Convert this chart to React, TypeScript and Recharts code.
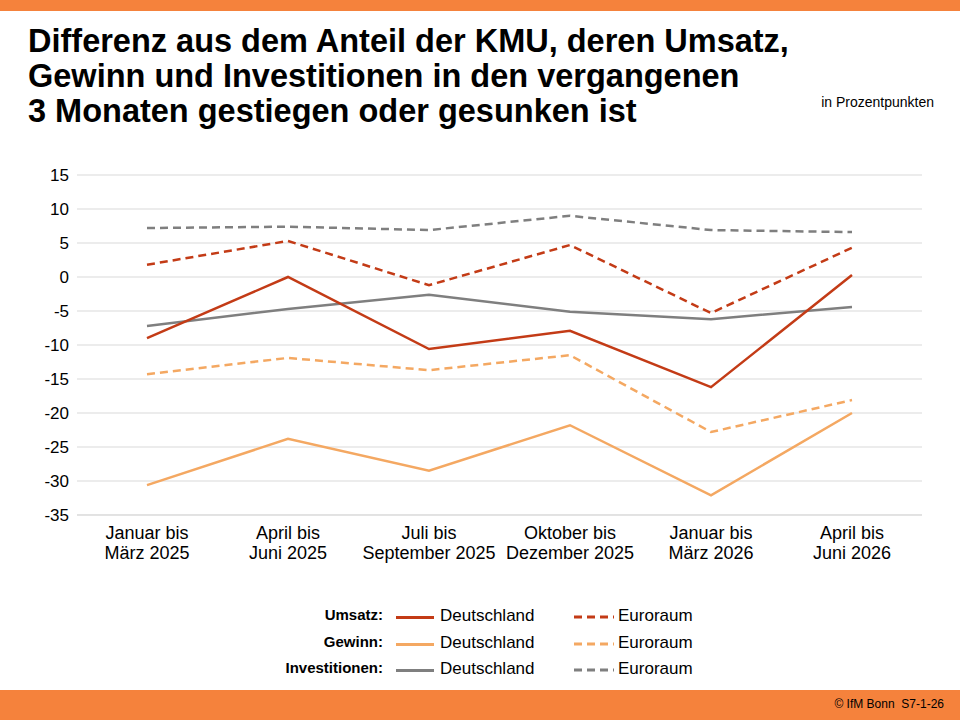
import { LineChart, Line, XAxis, YAxis, CartesianGrid } from "recharts";

const categories = [
  "Januar bis|März 2025",
  "April bis|Juni 2025",
  "Juli bis|September 2025",
  "Oktober bis|Dezember 2025",
  "Januar bis|März 2026",
  "April bis|Juni 2026",
];
const umsatzDE = [-9.0, 0.0, -10.6, -7.9, -16.2, 0.3];
const umsatzEU = [1.8, 5.3, -1.2, 4.7, -5.3, 4.3];
const gewinnDE = [-30.6, -23.8, -28.5, -21.8, -32.1, -20.0];
const gewinnEU = [-14.3, -11.9, -13.7, -11.5, -22.8, -18.1];
const investDE = [-7.2, -4.7, -2.6, -5.1, -6.2, -4.4];
const investEU = [7.2, 7.4, 6.9, 9.0, 6.9, 6.6];
const yTicks = [15, 10, 5, 0, -5, -10, -15, -20, -25, -30, -35];

const data = categories.map((c, i) => ({
  name: c,
  umsatzDE: umsatzDE[i],
  umsatzEU: umsatzEU[i],
  gewinnDE: gewinnDE[i],
  gewinnEU: gewinnEU[i],
  investDE: investDE[i],
  investEU: investEU[i],
}));

const RED = "#C33B16";
const ORANGE = "#F4A862";
const GREY = "#7F7F7F";
const FONT = "Liberation Sans, Arial, sans-serif";

function XTick({ x, y, payload }: any) {
  const [a, b] = String(payload.value).split("|");
  return (
    <text x={x} y={y + 16} textAnchor="middle" fontSize={18} fill="#000" fontFamily={FONT}>
      <tspan x={x} dy={0}>{a}</tspan>
      <tspan x={x} dy={20}>{b}</tspan>
    </text>
  );
}

const legendRows = [
  { label: "Umsatz:", color: RED, top: 616 },
  { label: "Gewinn:", color: ORANGE, top: 643 },
  { label: "Investitionen:", color: GREY, top: 669 },
];

export default function App() {
  return (
    <div style={{ position: "fixed", left: 0, top: 0, width: 960, height: 720, background: "#fff", fontFamily: FONT, overflow: "hidden" }}>
      <div style={{ position: "absolute", left: 0, top: 0, width: 960, height: 11, background: "#F5823C" }} />
      <div style={{ position: "absolute", left: 0, top: 690, width: 960, height: 30, background: "#F5823C" }} />
      <div style={{ position: "absolute", right: 16, top: 697, fontSize: 12, color: "#000" }}>© IfM Bonn&nbsp;&nbsp;S7-1-26</div>
      <div style={{ position: "absolute", left: 28, top: 24, fontSize: 32.5, fontWeight: "bold", lineHeight: "35px", color: "#000", whiteSpace: "nowrap" }}>
        Differenz aus dem Anteil der KMU, deren Umsatz,<br />
        Gewinn und Investitionen in den vergangenen<br />
        3 Monaten gestiegen oder gesunken ist
      </div>
      <div style={{ position: "absolute", right: 26, top: 94, fontSize: 14 }}>in Prozentpunkten</div>
      <div style={{ position: "absolute", left: 0, top: 0 }}>
        <LineChart width={960} height={720} data={data} margin={{ top: 175, right: 38, left: 17, bottom: 145 }}>
          <CartesianGrid vertical={false} stroke="#D9D9D9" />
          <XAxis
            dataKey="name"
            tick={<XTick />}
            height={60}
            interval={0}
            padding={{ left: 70, right: 70 }}
            tickLine={false}
            axisLine={{ stroke: "#D9D9D9" }}
          />
          <YAxis
            domain={[-35, 15]}
            ticks={yTicks}
            width={60}
            interval={0}
            tickLine={false}
            axisLine={false}
            tick={{ fontSize: 17, fill: "#000", fontFamily: FONT }}
          />
          <Line dataKey="gewinnEU" stroke={ORANGE} strokeWidth={2.5} strokeDasharray="8 5" dot={false} isAnimationActive={false} />
          <Line dataKey="gewinnDE" stroke={ORANGE} strokeWidth={2.5} dot={false} isAnimationActive={false} />
          <Line dataKey="investEU" stroke={GREY} strokeWidth={2.5} strokeDasharray="8 5" dot={false} isAnimationActive={false} />
          <Line dataKey="investDE" stroke={GREY} strokeWidth={2.5} dot={false} isAnimationActive={false} />
          <Line dataKey="umsatzEU" stroke={RED} strokeWidth={2.5} strokeDasharray="8 5" dot={false} isAnimationActive={false} />
          <Line dataKey="umsatzDE" stroke={RED} strokeWidth={2.5} dot={false} isAnimationActive={false} />
        </LineChart>
      </div>
      {legendRows.map((r) => (
        <div key={r.label}>
          <div style={{ position: "absolute", left: 200, width: 183, textAlign: "right", top: r.top - 10, fontSize: 15, fontWeight: "bold" }}>{r.label}</div>
          <div style={{ position: "absolute", left: 396, top: r.top, width: 38, height: 3, background: r.color }} />
          <div style={{ position: "absolute", left: 440, top: r.top - 10, fontSize: 17 }}>Deutschland</div>
          <svg style={{ position: "absolute", left: 574, top: r.top - 2 }} width={40} height={6}>
            <line x1={0} y1={3} x2={40} y2={3} stroke={r.color} strokeWidth={3} strokeDasharray="8 5" />
          </svg>
          <div style={{ position: "absolute", left: 618, top: r.top - 10, fontSize: 17 }}>Euroraum</div>
        </div>
      ))}
    </div>
  );
}
